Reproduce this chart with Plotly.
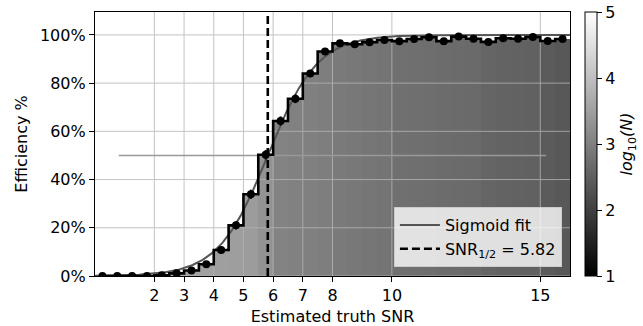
import numpy as np
import plotly.graph_objects as go

# Binned efficiency versus estimated truth SNR (bins of width 0.5)
bin_centers = [0.25, 0.75, 1.25, 1.75, 2.25, 2.75, 3.25, 3.75, 4.25, 4.75,
               5.25, 5.75, 6.25, 6.75, 7.25, 7.75, 8.25, 8.75, 9.25, 9.75,
               10.25, 10.75, 11.25, 11.75, 12.25, 12.75, 13.25, 13.75, 14.25,
               14.75, 15.25, 15.75]
efficiency_pct = [0.0, 0.0, 0.0, 0.0, 0.3, 1.1, 2.3, 4.9, 10.8, 21.0,
                  33.9, 50.3, 64.3, 73.5, 84.0, 93.1, 96.5, 96.1, 97.0, 97.9,
                  97.4, 98.3, 99.0, 97.4, 99.3, 98.4, 97.1, 98.6, 98.4,
                  99.1, 97.5, 98.3]
efficiency_err_pct = [0.0, 0.0, 0.0, 0.0, 0.2, 0.4, 0.6, 0.9, 1.3, 1.7,
                      1.9, 2.0, 1.9, 1.8, 1.5, 1.0, 0.7, 0.7, 0.6, 0.5,
                      0.6, 0.5, 0.4, 0.6, 0.4, 0.5, 0.6, 0.5, 0.5,
                      0.4, 0.6, 0.5]
log10_counts = [3.9, 3.85, 3.8, 3.75, 3.7, 3.65, 3.55, 3.52, 3.5, 3.48,
                3.45, 3.3, 3.05, 3.02, 3.0, 2.98, 2.92, 2.88, 2.85, 2.82,
                2.76, 2.74, 2.72, 2.7, 2.68, 2.66, 2.58, 2.56, 2.54,
                2.52, 2.42, 2.38]

# Sigmoid fit parameters
snr_half = 5.82
sigmoid_slope = 1.2

x_ticks = [2, 3, 4, 5, 6, 7, 8, 10, 15]
y_ticks = [0.0, 0.2, 0.4, 0.6, 0.8, 1.0]
x_range = [0, 16]
y_range = [0, 1.095]

eff = np.array(efficiency_pct) / 100.0
err = np.array(efficiency_err_pct) / 100.0

x_fit = np.linspace(x_range[0], x_range[1], 400)
y_fit = 1.0 / (1.0 + np.exp(-sigmoid_slope * (x_fit - snr_half)))

FONT = "DejaVu Sans"
GRID = "#b5b5b5"
gray_scale = [[0.0, "#000000"], [1.0, "#ffffff"]]

fig = go.Figure()

# Filled histogram coloured by log10 of the counts per bin
fig.add_trace(go.Bar(
    x=bin_centers, y=eff, width=0.5,
    marker=dict(color=log10_counts, colorscale=gray_scale, cmin=1, cmax=5,
                line=dict(width=0),
                colorbar=dict(
                    x=1.0316, xanchor="left", y=0.5, yanchor="middle",
                    len=1.0, lenmode="fraction", thickness=12,
                    xpad=0, ypad=0, outlinewidth=1, outlinecolor="black",
                    tickmode="array", tickvals=[1, 2, 3, 4, 5],
                    ticks="outside", ticklen=5, tickcolor="black",
                    tickfont=dict(family=FONT, size=16, color="black"),
                    title=dict(text="<i>log</i><sub>10</sub><i>(N)</i>",
                               side="right",
                               font=dict(family=FONT, size=16, color="black")),
                )),
    showlegend=False, hoverinfo="skip",
))

# Grid lines drawn over the filled histogram
gx, gy = [], []
for t in x_ticks:
    gx += [t, t, None]
    gy += [y_range[0], y_range[1], None]
for t in y_ticks:
    gx += [x_range[0], x_range[1], None]
    gy += [t, t, None]
fig.add_trace(go.Scatter(
    x=gx, y=gy, mode="lines", line=dict(color=GRID, width=1),
    showlegend=False, hoverinfo="skip", opacity=0.8,
))

# Reference line at 50 %
fig.add_trace(go.Scatter(
    x=[0.8, 15.2], y=[0.5, 0.5], mode="lines",
    line=dict(color="#999999", width=1.5), showlegend=False, hoverinfo="skip",
))

# Sigmoid fit
fig.add_trace(go.Scatter(
    x=x_fit, y=y_fit, mode="lines", name="Sigmoid fit",
    line=dict(color="#555555", width=2),
))

# Step outline of the efficiency
fig.add_trace(go.Scatter(
    x=bin_centers, y=eff, mode="lines", line_shape="hvh",
    line=dict(color="black", width=2.6), showlegend=False, hoverinfo="skip",
))

# Points with error bars
fig.add_trace(go.Scatter(
    x=bin_centers, y=eff, mode="markers",
    marker=dict(color="black", size=8),
    error_y=dict(type="data", array=err, color="black", thickness=2, width=0),
    showlegend=False, cliponaxis=True,
))

# SNR at 50 % efficiency
fig.add_trace(go.Scatter(
    x=[snr_half, snr_half], y=y_range, mode="lines",
    name="SNR<sub>1/2</sub> = %.2f" % snr_half,
    line=dict(color="black", width=2.6, dash="8px,4px"),
))

axis_common = dict(
    showline=True, linecolor="black", linewidth=1.2, mirror=True,
    ticks="outside", ticklen=5, tickcolor="black", tickwidth=1,
    showgrid=False, zeroline=False,
    tickfont=dict(family=FONT, size=16, color="black"),
)

fig.update_xaxes(
    range=x_range, tickmode="array", tickvals=x_ticks,
    title=dict(text="Estimated truth SNR", standoff=6,
               font=dict(family=FONT, size=16, color="black")),
    **axis_common,
)
fig.update_yaxes(
    range=y_range, tickmode="array", tickvals=y_ticks, tickformat=".0%",
    title=dict(text="Efficiency %", standoff=8,
               font=dict(family=FONT, size=16, color="black")),
    **axis_common,
)

fig.update_layout(
    width=643, height=326,
    margin=dict(l=95, r=73, t=12, b=50, autoexpand=False),
    paper_bgcolor="white", plot_bgcolor="white",
    bargap=0,
    font=dict(family=FONT, size=16, color="black"),
    legend=dict(
        x=0.983, y=0.034, xanchor="right", yanchor="bottom",
        bgcolor="rgba(255,255,255,0.8)", bordercolor="#cccccc", borderwidth=1,
        font=dict(family=FONT, size=16, color="black"),
        itemwidth=40, tracegroupgap=0,
    ),
)

fig.write_html("out.html")
